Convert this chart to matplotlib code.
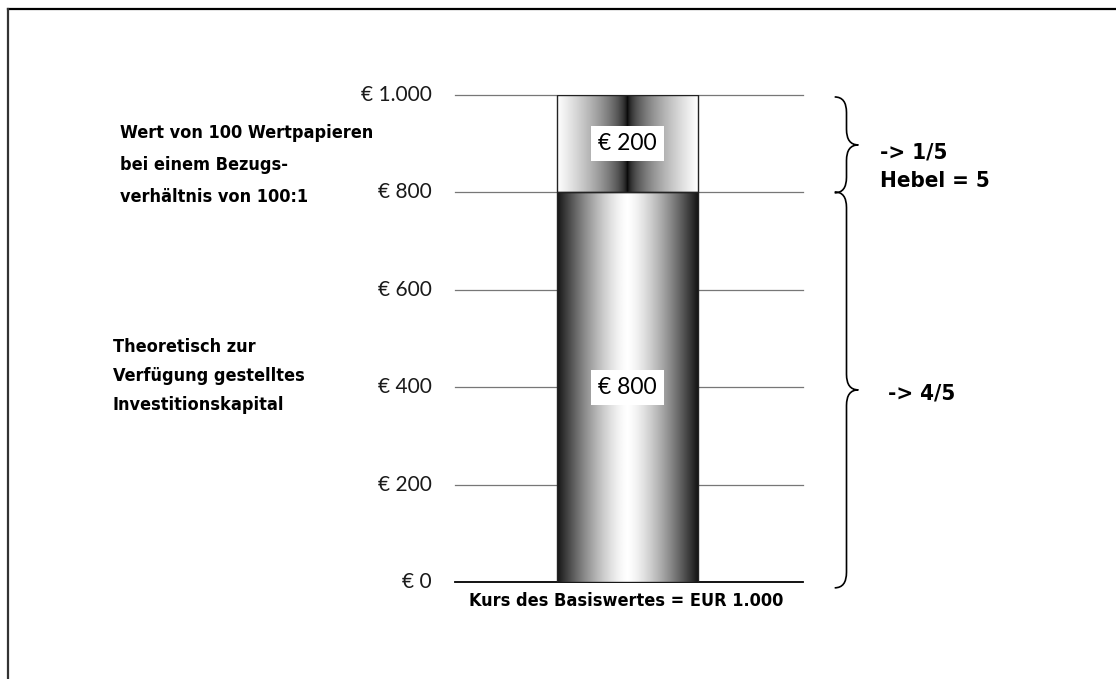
import numpy as np
import matplotlib.pyplot as plt
from matplotlib.lines import Line2D
from matplotlib.path import Path
from matplotlib.patches import PathPatch

# data
segments = [800, 200]
segment_labels = ["€ 800", "€ 200"]
tick_values = [0, 200, 400, 600, 800, 1000]
tick_labels = ["€ 0", "€ 200", "€ 400", "€ 600", "€ 800", "€ 1.000"]
bar_caption = "Kurs des Basiswertes = EUR 1.000"
left_notes = ["Wert von 100 Wertpapieren\nbei einem Bezugs-\nverhältnis von 100:1",
              "Theoretisch zur\nVerfügung gestelltes\nInvestitionskapital"]
right_notes = ["-> 1/5\nHebel = 5", "-> 4/5"]

HAND = dict(family=["DejaVu Sans"], fontstretch="condensed", fontweight="bold")
TICK = ["Lato", "DejaVu Sans"]

fig = plt.figure(figsize=(11.16, 6.79), dpi=100)
W, H = 1116, 679
ax = fig.add_axes([455 / W, 1 - 582 / H, 348 / W, 487 / H])
ax.set_xlim(0, 1)
ax.set_ylim(0, 1000)
for s in ax.spines.values():
    s.set_visible(False)
ax.set_xticks([])
ax.set_yticks([])

# gridlines + tick labels
for v, lab in zip(tick_values, tick_labels):
    ax.axhline(v, color="black" if v == 0 else "#777777", lw=1.3 if v == 0 else 0.9,
               zorder=1, clip_on=False)
    ax.text(-0.066, v, lab, ha="right", va="center", fontsize=15, family=TICK,
            color="#1a1a1a")

# bars with cylinder-like gradients
x0, bw = 0.293, 0.405
xs = np.linspace(-1, 1, 400)
grad_low = 0.08 + 0.92 * (1 - np.abs(xs) ** 1.4)
grad_high = np.clip(np.abs(xs) ** 0.55, 0, 1)
bottom = 0
for val, lab, grad in zip(segments, segment_labels, [grad_low, grad_high]):
    rect = ax.bar(x0 + bw / 2, val, width=bw, bottom=bottom, facecolor="none",
                  edgecolor="#222222", lw=1.0, zorder=3)[0]
    im = ax.imshow(np.tile(grad, (2, 1)), cmap="gray", vmin=0, vmax=1, aspect="auto",
                   extent=[x0, x0 + bw, bottom, bottom + val], zorder=2)
    im.set_clip_path(rect)
    ax.text(x0 + bw / 2, bottom + val / 2, lab, ha="center", va="center", fontsize=16.5,
            family=TICK, zorder=4,
            bbox=dict(boxstyle="square,pad=0.3", facecolor="white", edgecolor="none"))
    bottom += val
ax.set_xlim(0, 1)
ax.set_ylim(0, 1000)

ax.text(0.493, -20, bar_caption, ha="center", va="top", fontsize=13, **HAND)


def brace(y0, y1, x=1.125, w=0.068):
    # curly brace opening to the left, tip pointing right
    ym = (y0 + y1) / 2
    r = w / 2
    dy = min(32, (y1 - y0) / 6)
    verts = [(x - r, y1), (x, y1), (x, y1 - dy),
             (x, ym + dy), (x, ym), (x + r, ym),
             (x, ym), (x, ym - dy),
             (x, y0 + dy), (x, y0), (x - r, y0)]
    codes = [Path.MOVETO, Path.CURVE3, Path.CURVE3,
             Path.LINETO, Path.CURVE3, Path.CURVE3,
             Path.CURVE3, Path.CURVE3,
             Path.LINETO, Path.CURVE3, Path.CURVE3]
    ax.add_patch(PathPatch(Path(verts, codes), facecolor="none", edgecolor="black",
                           lw=1.2, clip_on=False))


brace(799, 996)
brace(-12, 801)

ax.text(1.222, 852, right_notes[0], ha="left", va="center", fontsize=16,
        linespacing=1.55, **HAND)
ax.text(1.245, 388, right_notes[1], ha="left", va="center", fontsize=16, **HAND)

fig.text(120 / W, 1 - 165 / H, left_notes[0], ha="left", va="center", fontsize=13,
         linespacing=2.0, **HAND)
fig.text(113 / W, 1 - 376 / H, left_notes[1], ha="left", va="center", fontsize=13,
         linespacing=1.8, **HAND)

# frame
fig.add_artist(Line2D([8 / W, 1], [1 - 9 / H, 1 - 9 / H], color="black", lw=1.6))
fig.add_artist(Line2D([8 / W, 8 / W], [0, 1 - 9 / H], color="#333333", lw=1.6))

fig.savefig("out.png", dpi=100)
